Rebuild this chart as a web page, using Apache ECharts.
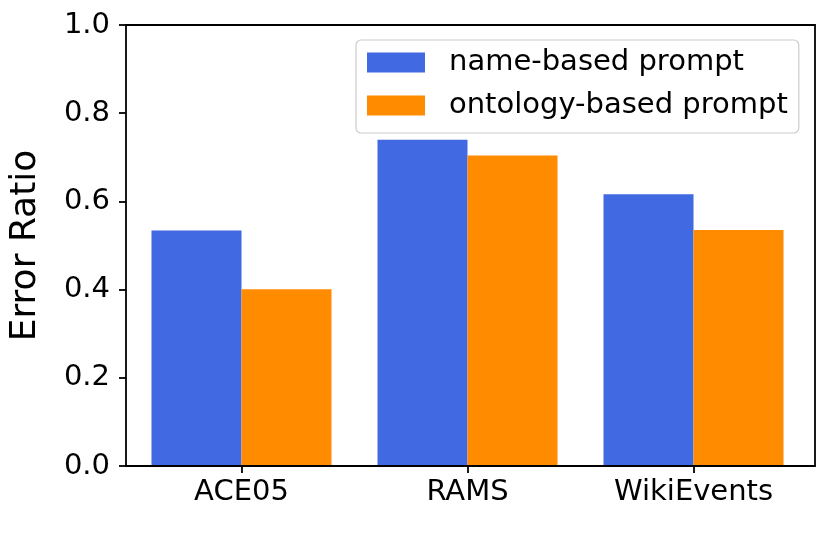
<!DOCTYPE html>
<html>
<head>
<meta charset="utf-8">
<script src="https://cdn.jsdelivr.net/npm/echarts@6/dist/echarts.min.js"></script>
<style>html,body{margin:0;padding:0;background:#fff}#c{width:830px;height:535px}</style>
</head>
<body>
<div id="c"></div>
<script>
const categories = ['ACE05', 'RAMS', 'WikiEvents'];
const nameBased = [0.534, 0.740, 0.616];
const ontologyBased = [0.401, 0.704, 0.535];
const seriesNames = ['name-based prompt', 'ontology-based prompt'];
const yAxisTitle = 'Error Ratio';

const FONT = 'DejaVu Sans';
const FS = 29;
const chart = echarts.init(document.getElementById('c'), null, {renderer: 'canvas'});
const frameLine = {show: true, onZero: false, lineStyle: {color: '#000', width: 1.8}};
chart.setOption({
  animation: false,
  backgroundColor: '#fff',
  textStyle: {fontFamily: FONT},
  grid: [
    {left: 120, right: 15, top: 25, bottom: 69},
    {left: 128.5, width: 678, top: 25, bottom: 69}
  ],
  legend: {
    data: seriesNames,
    left: 356, top: 40,
    orient: 'vertical',
    itemWidth: 58, itemHeight: 20, itemGap: 14,
    padding: [8, 11, 13, 11],
    backgroundColor: 'rgba(255,255,255,0.85)',
    borderColor: '#cccccc', borderWidth: 1.2, borderRadius: 5,
    icon: 'rect',
    textStyle: {fontFamily: FONT, fontSize: FS, color: '#000', padding: [0, 0, 0, 19]},
    z: 20
  },
  xAxis: [
    {gridIndex: 0, type: 'value', position: 'bottom', min: 0, max: 1, z: 10,
     axisLine: frameLine, axisTick: {show: false}, axisLabel: {show: false}, splitLine: {show: false}},
    {gridIndex: 0, type: 'value', position: 'top', min: 0, max: 1, z: 10,
     axisLine: frameLine, axisTick: {show: false}, axisLabel: {show: false}, splitLine: {show: false}},
    {gridIndex: 1, type: 'category', data: categories, position: 'bottom',
     axisLine: {show: false},
     axisTick: {show: true, alignWithLabel: true, length: 7, lineStyle: {color: '#000', width: 1.8}},
     axisLabel: {fontFamily: FONT, fontSize: FS, color: '#000', margin: 12},
     splitLine: {show: false}}
  ],
  yAxis: [
    {gridIndex: 0, type: 'value', position: 'left', min: 0, max: 1, interval: 0.2, z: 10,
     axisLine: frameLine,
     axisTick: {show: true, length: 7, lineStyle: {color: '#000', width: 1.8}},
     axisLabel: {fontFamily: FONT, fontSize: FS, color: '#000', margin: 16,
                 formatter: v => v.toFixed(1)},
     splitLine: {show: false},
     name: yAxisTitle, nameLocation: 'middle', nameRotate: 90, nameGap: 82,
     nameTextStyle: {fontFamily: FONT, fontSize: 36, color: '#000'}},
    {gridIndex: 0, type: 'value', position: 'right', min: 0, max: 1, z: 10,
     axisLine: frameLine, axisTick: {show: false}, axisLabel: {show: false}, splitLine: {show: false}},
    {gridIndex: 1, type: 'value', min: 0, max: 1, show: false}
  ],
  series: [
    {name: seriesNames[0], type: 'bar', xAxisIndex: 2, yAxisIndex: 2, data: nameBased,
     barWidth: 90, barGap: '0%', itemStyle: {color: '#4169E1'}},
    {name: seriesNames[1], type: 'bar', xAxisIndex: 2, yAxisIndex: 2, data: ontologyBased,
     barWidth: 90, barGap: '0%', itemStyle: {color: '#FF8C00'}}
  ]
});
</script>
</body>
</html>
